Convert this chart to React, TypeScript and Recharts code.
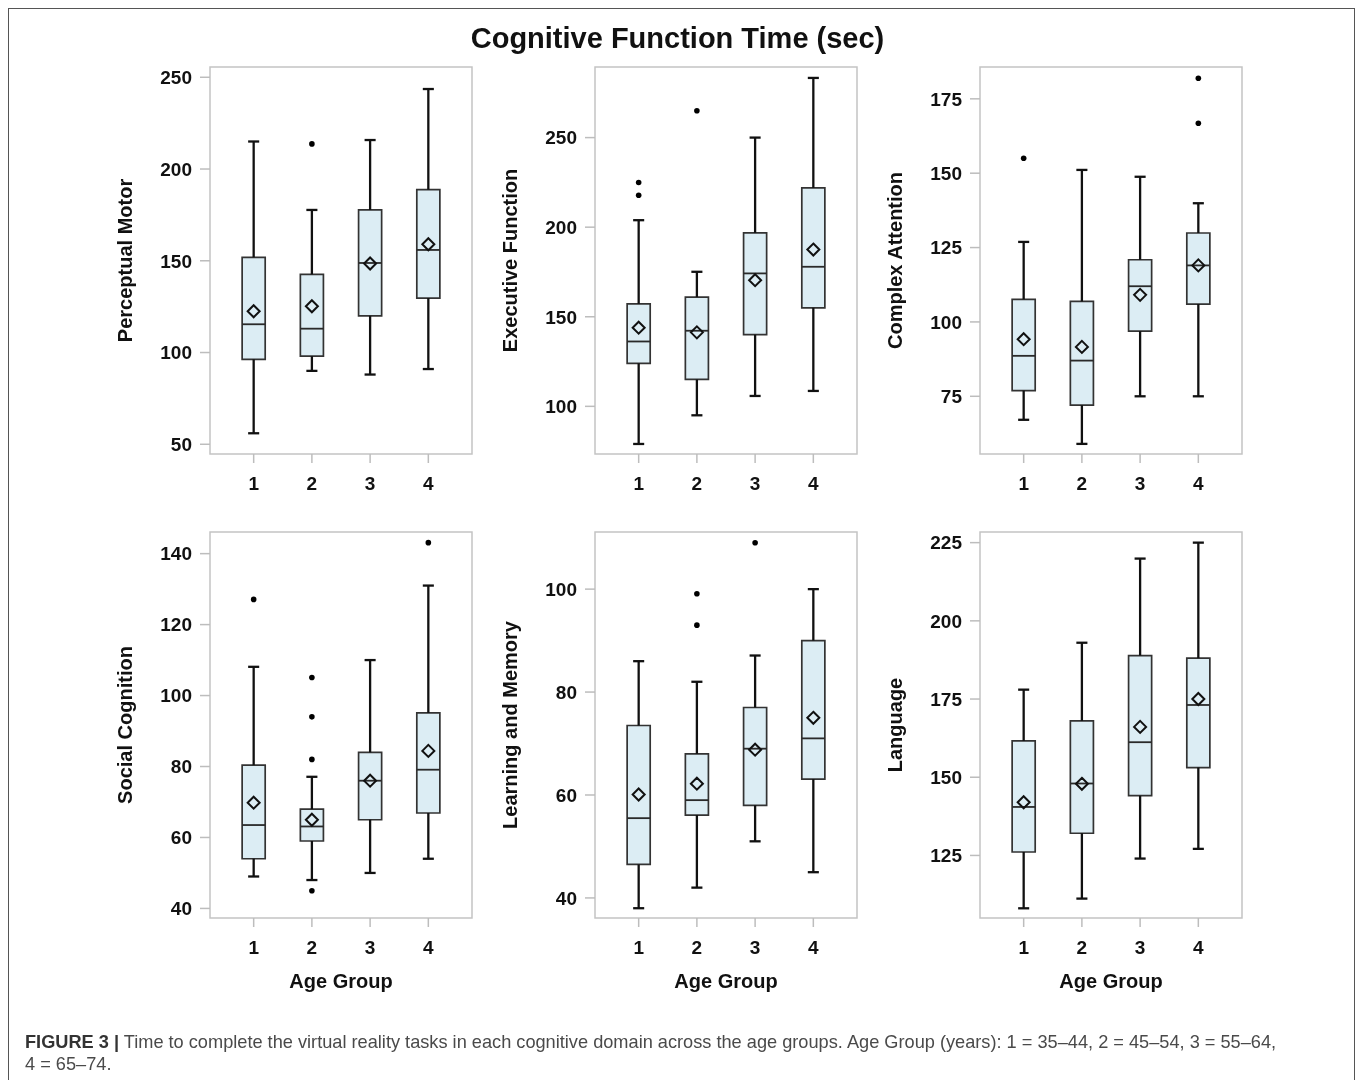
import React from 'react';
import { ComposedChart, XAxis, YAxis, Scatter, ReferenceArea, ReferenceLine, Label } from 'recharts';

// Age groups (x categories)
const groups = [1, 2, 3, 4];

// Perceptual Motor
const pmMin = [56, 90, 88, 91];
const pmQ1 = [96.3, 98, 120, 129.7];
const pmMedian = [115.4, 113, 148.8, 155.9];
const pmQ3 = [151.9, 142.6, 177.7, 188.8];
const pmMax = [215, 177.7, 215.8, 243.6];
const pmMean = [122.5, 125.2, 148.5, 159];
const pmOutliers = [[2, 213.7]];
const pmTicks = [50, 100, 150, 200, 250];

// Executive Function
const efMin = [79, 95, 105.8, 108.6];
const efQ1 = [124, 115, 140, 155];
const efMedian = [136.2, 142.2, 174.2, 177.9];
const efQ3 = [157.2, 161, 196.8, 221.9];
const efMax = [203.9, 175.1, 250, 283.3];
const efMean = [143.9, 141.3, 170.4, 187.5];
const efOutliers = [[1, 224.9], [1, 217.8], [2, 265]];
const efTicks = [100, 150, 200, 250];

// Complex Attention
const caMin = [67.1, 59, 75, 75];
const caQ1 = [76.9, 72, 96.9, 106];
const caMedian = [88.6, 87, 112, 119];
const caQ3 = [107.6, 106.9, 120.9, 129.9];
const caMax = [126.9, 151.1, 148.8, 139.9];
const caMean = [94.2, 91.6, 109.1, 119];
const caOutliers = [[1, 155], [4, 181.9], [4, 166.8]];
const caTicks = [75, 100, 125, 150, 175];

// Social Cognition
const scMin = [49, 48, 50, 54];
const scQ1 = [54, 59, 65, 66.9];
const scMedian = [63.5, 63.1, 76, 79.1];
const scQ3 = [80.4, 68, 84, 95.1];
const scMax = [108.1, 77.1, 110, 131];
const scMean = [69.8, 65, 76, 84.4];
const scOutliers = [[1, 127.1], [2, 105.1], [2, 94], [2, 82], [2, 45], [4, 143.1]];
const scTicks = [40, 60, 80, 100, 120, 140];

// Learning and Memory
const lmMin = [38, 42, 51, 45];
const lmQ1 = [46.5, 56.1, 58, 63.1];
const lmMedian = [55.5, 59, 69, 71];
const lmQ3 = [73.5, 68, 77, 90];
const lmMax = [86, 82, 87.1, 100];
const lmMean = [60.1, 62.2, 68.8, 75];
const lmOutliers = [[2, 99.1], [2, 93], [3, 109]];
const lmTicks = [40, 60, 80, 100];

// Language
const laMin = [108.1, 111.2, 124, 127.1];
const laQ1 = [126.1, 132.1, 144.1, 153.1];
const laMedian = [140.5, 148, 161.2, 173.1];
const laQ3 = [161.6, 168, 188.9, 188.1];
const laMax = [178, 193, 219.9, 225];
const laMean = [142, 147.9, 166.1, 175];
const laOutliers: number[][] = [];
const laTicks = [125, 150, 175, 200, 225];

const FONT = '"Liberation Sans", Arial, Helvetica, sans-serif';
const BOX_HALF = 0.198;
const CAP_HALF = 0.095;

const Diamond = (props: any) => {
  const { cx, cy } = props;
  const r = 6;
  return (
    <path
      d={`M${cx},${cy - r} L${cx + r},${cy} L${cx},${cy + r} L${cx - r},${cy} Z`}
      fill="none"
      stroke="#111"
      strokeWidth={2}
    />
  );
};

const Dot = (props: any) => {
  const { cx, cy } = props;
  return <circle cx={cx} cy={cy} r={2.8} fill="#000" />;
};

function Panel(p: any) {
  const {
    left, top, plotHeight, xAxisHeight, title, yDomain, yTicks,
    mins, q1s, medians, q3s, maxs, means, outliers, showXLabel,
  } = p;
  const meanData = groups.map((g, i) => ({ g, v: means[i] }));
  const outData = outliers.map((o: number[]) => ({ g: o[0], v: o[1] }));
  const elems: any[] = [];
  groups.forEach((g, i) => {
    elems.push(
      <ReferenceLine key={`wu${g}`} segment={[{ x: g, y: q3s[i] }, { x: g, y: maxs[i] }]} stroke="#111" strokeWidth={2.3} ifOverflow="visible" />,
      <ReferenceLine key={`wl${g}`} segment={[{ x: g, y: mins[i] }, { x: g, y: q1s[i] }]} stroke="#111" strokeWidth={2.3} ifOverflow="visible" />,
      <ReferenceLine key={`cu${g}`} segment={[{ x: g - CAP_HALF, y: maxs[i] }, { x: g + CAP_HALF, y: maxs[i] }]} stroke="#111" strokeWidth={2.3} ifOverflow="visible" />,
      <ReferenceLine key={`cl${g}`} segment={[{ x: g - CAP_HALF, y: mins[i] }, { x: g + CAP_HALF, y: mins[i] }]} stroke="#111" strokeWidth={2.3} ifOverflow="visible" />,
      <ReferenceArea key={`b${g}`} x1={g - BOX_HALF} x2={g + BOX_HALF} y1={q1s[i]} y2={q3s[i]} fill="#DCEDF4" fillOpacity={1} stroke="#333" strokeWidth={1.7} ifOverflow="visible" />,
      <ReferenceLine key={`m${g}`} segment={[{ x: g - BOX_HALF, y: medians[i] }, { x: g + BOX_HALF, y: medians[i] }]} stroke="#2a2a2a" strokeWidth={1.8} ifOverflow="visible" />,
    );
  });
  return (
    <div style={{ position: 'absolute', left, top }}>
      <ComposedChart
        width={377}
        height={5 + plotHeight + xAxisHeight}
        margin={{ top: 5, right: 5, left: 0, bottom: 0 }}
        style={{ fontFamily: FONT }}
      >
        <XAxis
          type="number"
          dataKey="g"
          domain={[0.25, 4.75]}
          ticks={groups}
          allowDataOverflow
          interval={0}
          height={xAxisHeight}
          tickSize={9}
          tickMargin={14}
          axisLine={false}
          tickLine={{ stroke: '#bdbdbd', strokeWidth: 1.5 }}
          tick={{ fill: '#111', fontSize: 19, fontWeight: 700, fontFamily: FONT }}
        >
          {showXLabel ? (
            <Label value="Age Group" position="insideBottom" offset={10} style={{ fontSize: 20, fontWeight: 700, fill: '#111', fontFamily: FONT }} />
          ) : null}
        </XAxis>
        <YAxis
          type="number"
          dataKey="v"
          domain={yDomain}
          ticks={yTicks}
          allowDataOverflow
          interval={0}
          width={110}
          tickSize={10}
          tickMargin={8}
          axisLine={false}
          tickLine={{ stroke: '#bdbdbd', strokeWidth: 1.5 }}
          tick={{ fill: '#111', fontSize: 19, fontWeight: 700, fontFamily: FONT }}
        >
          <Label value={title} angle={-90} position="insideLeft" offset={25} style={{ fontSize: 20, fontWeight: 700, fill: '#111', textAnchor: 'middle', fontFamily: FONT }} />
        </YAxis>
        <ReferenceArea x1={0.25} x2={4.75} y1={yDomain[0]} y2={yDomain[1]} fill="none" fillOpacity={0} stroke="#c4c4c4" strokeWidth={1.5} ifOverflow="visible" />
        {elems}
        <Scatter data={meanData} shape={Diamond} isAnimationActive={false} />
        <Scatter data={outData} shape={Dot} isAnimationActive={false} />
      </ComposedChart>
    </div>
  );
}

export default function App() {
  const row1Top = 54;
  const row2Top = 519;
  return (
    <div style={{ position: 'relative', width: 1341, height: 1064, fontFamily: FONT }}>
      <div
        style={{
          position: 'fixed', left: 8, top: 8, right: 2, bottom: -4,
          boxSizing: 'border-box', border: '1.5px solid #555', borderBottom: 'none',
          pointerEvents: 'none',
        }}
      />
      <div
        style={{
          position: 'absolute', left: 0, top: 15, width: 1339, textAlign: 'center',
          fontSize: 29, lineHeight: '30px', fontWeight: 700, color: '#111',
        }}
      >
        Cognitive Function Time (sec)
      </div>

      <Panel left={92} top={row1Top} plotHeight={387} xAxisHeight={40} title="Perceptual Motor"
        yDomain={[44.7, 255.6]} yTicks={pmTicks} mins={pmMin} q1s={pmQ1} medians={pmMedian} q3s={pmQ3}
        maxs={pmMax} means={pmMean} outliers={pmOutliers} showXLabel={false} />
      <Panel left={477} top={row1Top} plotHeight={387} xAxisHeight={40} title="Executive Function"
        yDomain={[73.4, 289.4]} yTicks={efTicks} mins={efMin} q1s={efQ1} medians={efMedian} q3s={efQ3}
        maxs={efMax} means={efMean} outliers={efOutliers} showXLabel={false} />
      <Panel left={862} top={row1Top} plotHeight={387} xAxisHeight={40} title="Complex Attention"
        yDomain={[55.6, 185.7]} yTicks={caTicks} mins={caMin} q1s={caQ1} medians={caMedian} q3s={caQ3}
        maxs={caMax} means={caMean} outliers={caOutliers} showXLabel={false} />

      <Panel left={92} top={row2Top} plotHeight={386} xAxisHeight={80} title="Social Cognition"
        yDomain={[37.3, 146.1]} yTicks={scTicks} mins={scMin} q1s={scQ1} medians={scMedian} q3s={scQ3}
        maxs={scMax} means={scMean} outliers={scOutliers} showXLabel={true} />
      <Panel left={477} top={row2Top} plotHeight={386} xAxisHeight={80} title="Learning and Memory"
        yDomain={[36.1, 111.1]} yTicks={lmTicks} mins={lmMin} q1s={lmQ1} medians={lmMedian} q3s={lmQ3}
        maxs={lmMax} means={lmMean} outliers={lmOutliers} showXLabel={true} />
      <Panel left={862} top={row2Top} plotHeight={386} xAxisHeight={80} title="Language"
        yDomain={[105, 228.4]} yTicks={laTicks} mins={laMin} q1s={laQ1} medians={laMedian} q3s={laQ3}
        maxs={laMax} means={laMean} outliers={laOutliers} showXLabel={true} />

      <div
        style={{
          position: 'absolute', left: 17, top: 1023, width: 1320,
          fontSize: 18.2, lineHeight: '22px', color: '#4a4a4a', whiteSpace: 'nowrap',
        }}
      >
        <span style={{ fontWeight: 700, color: '#333' }}>FIGURE 3 |</span> Time to complete the virtual reality tasks in each cognitive domain across the age groups. Age Group (years): 1 = 35–44, 2 = 45–54, 3 = 55–64,
        <br />
        4 = 65–74.
      </div>
    </div>
  );
}
